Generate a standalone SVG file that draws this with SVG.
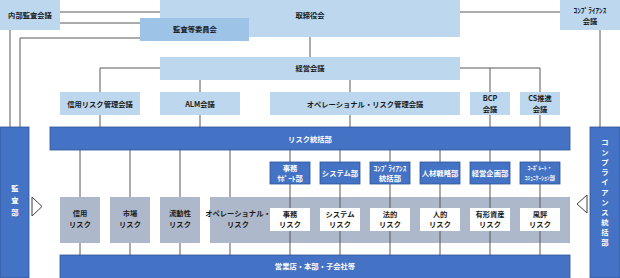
<svg xmlns="http://www.w3.org/2000/svg" width="620" height="278" viewBox="0 0 620 278">
<style>
text{font-family:"Noto Sans CJK JP","Noto Sans",sans-serif;font-weight:bold;font-size:7.3px;text-anchor:middle;dominant-baseline:central}
.lb{fill:#bdd7ee}
.mb{fill:#9dc3e6}
.db{fill:#4472c4;stroke:#2f5597;stroke-width:0.8}
.gr{fill:#adb9ca}
.wh{fill:#ffffff}
.dk{fill:#1a1a1a}
.wt{fill:#ffffff}
.ln{fill:none;stroke:#595959;stroke-width:1}
.tri{fill:#ffffff;stroke:#404040;stroke-width:1}
</style>
<rect width="620" height="278" fill="#ffffff"/>
<g id="connectors" class="ln">
<path d="M60 12H160"/>
<path d="M60 23H140"/>
<path d="M20 127V38H140"/>
<path d="M10 30V127"/>
<path d="M310 37V57"/>
<path d="M460 12H560"/>
<path d="M600 30V127"/>
<path d="M160 68H100V92"/>
<path d="M200 80V92"/>
<path d="M350 80V92"/>
<path d="M460 68H540V92"/>
<path d="M490 68V92"/>
<path d="M100 115V127M200 115V127M350 115V127M490 115V127M540 115V127"/>
<path d="M80 150V255M130 150V255M180 150V255M230 150V255M290 150V255M340 150V255M390 150V255M440 150V255M490 150V255M540 150V255"/>
</g>
<g id="naibu"><rect class="lb" x="0" y="0" width="60" height="30"/><text class="dk" x="30" y="15">内部監査会議</text></g>
<g id="torishimariyaku"><rect class="lb" x="160" y="0" width="300" height="37"/><text class="dk" x="310" y="15">取締役会</text></g>
<g id="kansatou"><rect class="mb" x="140" y="18" width="109" height="23"/><text class="dk" x="195" y="29">監査等委員会</text></g>
<g id="compliance-kaigi"><rect class="lb" x="560" y="0" width="60" height="30"/><text class="dk" x="590" y="10">ｺﾝﾌﾟﾗｲｱﾝｽ</text><text class="dk" x="590" y="21">会議</text></g>
<g id="keiei"><rect class="lb" x="160" y="57" width="300" height="23"/><text class="dk" x="310" y="68">経営会議</text></g>
<g id="shinyo-kaigi"><rect class="lb" x="60" y="92" width="80" height="23"/><text class="dk" x="100" y="103.5">信用リスク管理会議</text></g>
<g id="alm"><rect class="lb" x="160" y="92" width="80" height="23"/><text class="dk" x="200" y="103.5">ALM会議</text></g>
<g id="or-kaigi"><rect class="lb" x="270" y="92" width="190" height="23"/><text class="dk" x="365" y="103.5">オペレーショナル・リスク管理会議</text></g>
<g id="bcp"><rect class="lb" x="470" y="92" width="40" height="23"/><text class="dk" x="490" y="98">BCP</text><text class="dk" x="490" y="109">会議</text></g>
<g id="cs"><rect class="lb" x="520" y="92" width="40" height="23"/><text class="dk" x="540" y="98">CS推進</text><text class="dk" x="540" y="109">会議</text></g>
<g id="risk-tokatsu"><rect class="db" x="50" y="127" width="520" height="23"/><text class="wt" x="310" y="138.5">リスク統括部</text></g>
<g id="kansabu"><rect class="db" x="0" y="127" width="29" height="151"/><text class="wt" x="15" y="188">監</text><text class="wt" x="15" y="200">査</text><text class="wt" x="15" y="212">部</text></g>
<g id="compliance-tokatsu"><rect class="db" x="590" y="127" width="30" height="151"/>
<text class="wt" x="605" y="142">コ</text><text class="wt" x="605" y="152">ン</text><text class="wt" x="605" y="162">プ</text><text class="wt" x="605" y="172">ラ</text><text class="wt" x="605" y="182">イ</text><text class="wt" x="605" y="192">ア</text><text class="wt" x="605" y="202">ン</text><text class="wt" x="605" y="212">ス</text><text class="wt" x="605" y="222">統</text><text class="wt" x="605" y="232">括</text><text class="wt" x="605" y="242">部</text></g>
<g id="tri-left"><polygon class="tri" points="32,197 42,206.5 32,216"/></g>
<g id="tri-right"><polygon class="tri" points="587,195 577,204 587,213"/></g>
<g id="shinyo-risk"><rect class="gr" x="60" y="197" width="40" height="46"/><text class="dk" x="80" y="213">信用</text><text class="dk" x="80" y="224">リスク</text></g>
<g id="shijo-risk"><rect class="gr" x="110" y="197" width="40" height="46"/><text class="dk" x="130" y="213">市場</text><text class="dk" x="130" y="224">リスク</text></g>
<g id="ryudosei-risk"><rect class="gr" x="160" y="197" width="40" height="46"/><text class="dk" x="180" y="213">流動性</text><text class="dk" x="180" y="224">リスク</text></g>
<g id="or-risk"><rect class="gr" x="210" y="197" width="360" height="46"/><text class="dk" x="238" y="213">オペレーショナル・</text><text class="dk" x="238" y="224">リスク</text></g>
<path class="ln" d="M290 197V243M340 197V243M390 197V243M440 197V243M490 197V243M540 197V243"/>
<g id="jimu-risk"><rect class="wh" x="270" y="208" width="40" height="23"/><text class="dk" x="290" y="213.5">事務</text><text class="dk" x="290" y="224">リスク</text></g>
<g id="system-risk"><rect class="wh" x="320" y="208" width="40" height="23"/><text class="dk" x="340" y="213.5">システム</text><text class="dk" x="340" y="224">リスク</text></g>
<g id="hoteki-risk"><rect class="wh" x="370" y="208" width="40" height="23"/><text class="dk" x="390" y="213.5">法的</text><text class="dk" x="390" y="224">リスク</text></g>
<g id="jinteki-risk"><rect class="wh" x="420" y="208" width="40" height="23"/><text class="dk" x="440" y="213.5">人的</text><text class="dk" x="440" y="224">リスク</text></g>
<g id="yukei-risk"><rect class="wh" x="470" y="208" width="40" height="23"/><text class="dk" x="490" y="213.5">有形資産</text><text class="dk" x="490" y="224">リスク</text></g>
<g id="fuhyo-risk"><rect class="wh" x="520" y="208" width="40" height="23"/><text class="dk" x="540" y="213.5">風評</text><text class="dk" x="540" y="224">リスク</text></g>
<g id="jimu-support"><rect class="db" x="270" y="162" width="40" height="22"/><text class="wt" x="290" y="167.5">事務</text><text class="wt" x="290" y="178">ｻﾎﾟｰﾄ部</text></g>
<g id="system-bu"><rect class="db" x="320" y="162" width="40" height="22"/><text class="wt" x="340" y="173">システム部</text></g>
<g id="compliance-bu"><rect class="db" x="370" y="162" width="40" height="22"/><text class="wt" x="390" y="167.5">ｺﾝﾌﾟﾗｲｱﾝｽ</text><text class="wt" x="390" y="178">統括部</text></g>
<g id="jinzai"><rect class="db" x="420" y="162" width="40" height="22"/><text class="wt" x="440" y="173">人材戦略部</text></g>
<g id="keiei-kikaku"><rect class="db" x="470" y="162" width="40" height="22"/><text class="wt" x="490" y="173">経営企画部</text></g>
<g id="corporate-comm"><rect class="db" x="520" y="162" width="40" height="22"/><text class="wt" x="540" y="167.5" style="font-size:5.5px">ｺｰﾎﾟﾚｰﾄ・</text><text class="wt" x="540" y="178" style="font-size:5.5px">ｺﾐｭﾆｹｰｼｮﾝ部</text></g>
<g id="eigyoten"><rect class="db" x="60" y="255" width="510" height="24"/><text class="wt" x="315" y="266">営業店・本部・子会社等</text></g>
</svg>
